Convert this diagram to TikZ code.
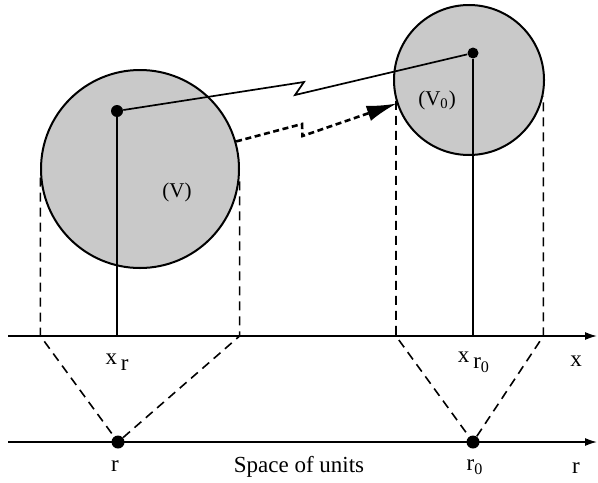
\documentclass[tikz,border=0pt]{standalone}
\usepackage{fontspec}
\setmainfont{Liberation Serif}
\usetikzlibrary{arrows.meta}
\begin{document}
\begin{tikzpicture}[x=0.5pt,y=-0.5pt,
    blob/.style={circle,draw,line width=1pt,fill=gray!42,inner sep=0pt},
    unitdot/.style={circle,fill,inner sep=0pt,minimum size=#1},
    unitdot/.default=6pt,
    proj/.style={dash pattern=on 4.5pt off 3pt,line width=0.8pt},
    axis/.style={line width=0.8pt,-{Latex[length=6pt,width=4pt]}},
    lbl/.style={font=\fontsize{11.5}{13}\selectfont,inner sep=0pt}]
    \useasboundingbox (0,0) rectangle (598,482);
    % Regions
    \node[blob,minimum size=99pt] (V) at (140,169) {};
    \node[blob,minimum size=75pt] (V0) at (469,80) {};
    \node[font=\fontsize{10.5}{12}\selectfont] (lV) at (177,192) {(V)};
    \node[font=\fontsize{10.5}{12}\selectfont] (lV0) at (437,100) {(V\textsubscript{0})};
    \node[unitdot] (pV) at (117,111) {};
    \node[unitdot=5.5pt] (pV0) at (473,53) {};
    % Axes
    \coordinate (xaxis) at (8,336);
    \coordinate (xend) at (597,336);
    \coordinate (raxis) at (8,442);
    \coordinate (rend) at (597,442);
    \draw[axis] (xaxis) -- (xend);
    \draw[axis] (raxis) -- (rend);
    \node[unitdot=6.5pt] (r) at (118,442) {};
    \node[unitdot=6.5pt] (r0) at (473,442) {};
    % Projections
    \coordinate (aL) at (V.185 |- xaxis);
    \coordinate (aR) at (V.-5 |- xaxis);
    \coordinate (bL) at (V0.196 |- xaxis);
    \coordinate (bR) at (V0.-12 |- xaxis);
    \draw[proj] (V.185) -- (aL) -- (r) -- (aR) -- (V.-5);
    \draw[proj] (V0.196) -- (bL) -- (r0) -- (bR) -- (V0.-12);
    \draw[line width=0.75pt] (pV) -- (pV |- xaxis);
    \draw[line width=0.75pt] (pV0) -- (pV0 |- xaxis);
    % Links
    \draw[line width=0.85pt] (pV) -- (304,82) -- (295,95) -- (pV0);
    \draw[line width=1.3pt,dash pattern=on 3pt off 1.8pt,-{Latex[length=15pt,width=8pt]}]
        (V.16) -- (302,124) -- (302.5,136) -- (V0.198);
    % Labels
    \node[lbl] (xr) at (117,362) {x\,\raisebox{-0.6ex}{r}};
    \node[lbl] (xr0) at (474,362) {x\,\raisebox{-0.6ex}{r\textsubscript{0}}};
    \node[lbl] (lr) at (115,466) {r};
    \node[lbl] (lr0) at (475,467) {r\textsubscript{0}};
    \node[lbl] (units) at (299,467) {Space of units};
    \node[lbl] (lx) at (576,361) {x};
    \node[lbl] (lrr) at (576,468) {r};
\end{tikzpicture}
\end{document}
